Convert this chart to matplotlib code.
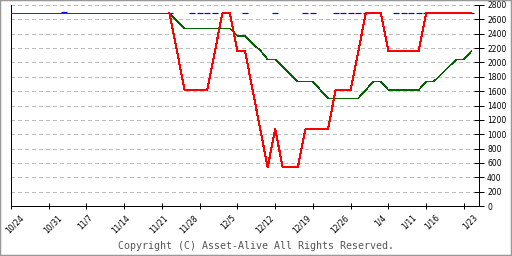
import matplotlib
matplotlib.use("Agg")
import matplotlib.pyplot as plt
from matplotlib import transforms
from matplotlib.patches import Rectangle
import numpy as np

# trading-day index 0..61 (10/24 .. 1/24)
green_vals = [2684] * 22 + [2580] + [2475] * 7 + [2368] * 2 + [2260, 2170, 2043, 2043, 1940, 1835] \
    + [1732] * 3 + [1616] + [1500] * 5 + [1616] + [1732] * 2 + [1616] * 5 + [1732] * 2 \
    + [1835, 1940, 2043, 2043, 2159]
red_days = list(range(21, 62))
red_vals = [2684, 2150] + [1616] * 4 + [2150] + [2684] * 2 + [2159] * 2 + [1620, 1080, 539, 1068] \
    + [539] * 3 + [1068] * 4 + [1616] * 3 + [2150] + [2684] * 3 + [2159] * 5 + [2684] * 7
blue_days = [7, 21, 24, 25, 26, 27, 31, 35, 39, 40, 43, 44, 45, 46, 47, 51, 52, 53, 54, 55, 61]
blue_vals = [2700] + [2684] * 20

date_labels = ["10/24", "10/31", "11/7", "11/14", "11/21", "11/28", "12/5", "12/12",
               "12/19", "12/26", "1/4", "1/11", "1/16", "1/23"]
date_pos = [0, 5, 9, 14, 19, 23, 28, 33, 38, 43, 48, 52, 55, 60]
yticks = list(range(0, 2801, 200))

px = 0.72  # one pixel in points at dpi 100

fig = plt.figure(figsize=(5.12, 2.56), dpi=100)
ax = fig.add_axes([11 / 512, 50 / 256, 468 / 512, 201 / 256])

ax.plot(blue_days, blue_vals, ls="none", marker="_", ms=6 * px, mew=1.2 * px,
        color="#0000ff", zorder=2)
ax.plot(range(len(green_vals)), green_vals, color="#006400", lw=0.6 * px, zorder=3, antialiased=False)
ax.plot(red_days, red_vals, color="#ff0000", lw=1.0 * px, zorder=4, antialiased=False)

ax.set_xlim(0, 62)
ax.set_ylim(0, 2800)

for v in yticks[1:]:
    ax.axhline(v, color="#bdbdbd", lw=0.6 * px, ls=(0, (5, 5)), zorder=1, antialiased=False)

ax.spines["top"].set_visible(False)
for s in ("left", "right", "bottom"):
    ax.spines[s].set_linewidth(1.0 * px)

ax.yaxis.tick_right()
ax.set_yticks(yticks)
ax.tick_params(axis="y", direction="inout", length=10 * px, width=1 * px, pad=3 * px,
               labelsize=5.5)

ax.set_xticks(range(0, 61, 5))
ax.set_xticklabels([])
ax.tick_params(axis="x", direction="inout", length=6 * px, width=1 * px)

trans = transforms.offset_copy(ax.get_xaxis_transform(), fig=fig, x=0, y=-7, units="dots")
for lab, d in zip(date_labels, date_pos):
    ax.text(d + 1.15, 0, lab, transform=trans, rotation=45, ha="right", va="top",
            rotation_mode="anchor", fontsize=5.5)

fig.text(0.5, 10 / 256, "Copyright (C) Asset-Alive All Rights Reserved.", ha="center",
         va="center", family="DejaVu Sans Mono", fontsize=7.2, color="#555555")

fig.patches.append(Rectangle((0, 0), 1, 1, transform=fig.transFigure, fill=False,
                             edgecolor="#999999", lw=2.5 * px))

fig.savefig("out.png", dpi=100)
